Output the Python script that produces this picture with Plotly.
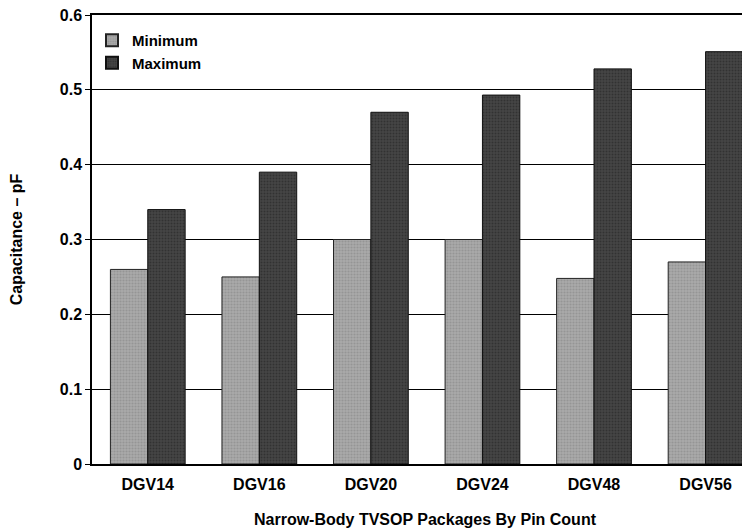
import plotly.graph_objects as go

categories = ["DGV14", "DGV16", "DGV20", "DGV24", "DGV48", "DGV56"]
minimum = [0.26, 0.25, 0.30, 0.30, 0.248, 0.27]
maximum = [0.34, 0.39, 0.47, 0.493, 0.528, 0.551]
y_ticks = [0, 0.1, 0.2, 0.3, 0.4, 0.5, 0.6]
y_tick_labels = ["0", "0.1", "0.2", "0.3", "0.4", "0.5", "0.6"]

font_family = "Liberation Sans, Arial, sans-serif"
bold16 = dict(size=16, family=font_family, weight="bold", color="black")

fig = go.Figure()
fig.add_trace(go.Bar(
    name="Minimum", x=categories, y=minimum,
    marker=dict(color="#a0a0a0", line=dict(color="#222", width=1),
                pattern=dict(shape=".", fgcolor="#808080", bgcolor="#aaaaaa", size=3, solidity=0.4)),
))
fig.add_trace(go.Bar(
    name="Maximum", x=categories, y=maximum,
    marker=dict(color="#3a3a3a", line=dict(color="#111", width=1),
                pattern=dict(shape=".", fgcolor="#1e1e1e", bgcolor="#464646", size=3, solidity=0.4)),
))

fig.update_layout(
    width=750, height=532,
    margin=dict(l=84, r=0, t=7, b=76),
    paper_bgcolor="white", plot_bgcolor="white",
    barmode="group", bargap=0.33, bargroupgap=0,
    font=dict(family=font_family, size=16, color="black"),
    legend=dict(x=0.0, y=0.98, xanchor="left", yanchor="top",
                bgcolor="rgba(0,0,0,0)",
                font=dict(size=15, family=font_family, weight="bold", color="black"),
                itemsizing="constant", tracegroupgap=0, itemwidth=30),
    showlegend=True,
)
fig.update_xaxes(
    range=[-0.5, 5.47],
    showline=True, linecolor="black", linewidth=2, mirror=True,
    showgrid=False, ticks="", ticklabelstandoff=5,
    tickfont=bold16,
    title=dict(text="Narrow-Body TVSOP Packages By Pin Count",
               font=bold16, standoff=22),
)
fig.update_yaxes(
    range=[0, 0.6],
    tickvals=y_ticks, ticktext=y_tick_labels,
    showline=True, linecolor="black", linewidth=1.5,
    showgrid=True, gridcolor="black", gridwidth=1,
    ticks="outside", ticklen=5, tickcolor="black",
    ticklabeloverflow="allow",
    tickfont=bold16,
    title=dict(text="Capacitance – pF", font=bold16, standoff=34),
    zeroline=False,
)

fig.write_html("out.html")
